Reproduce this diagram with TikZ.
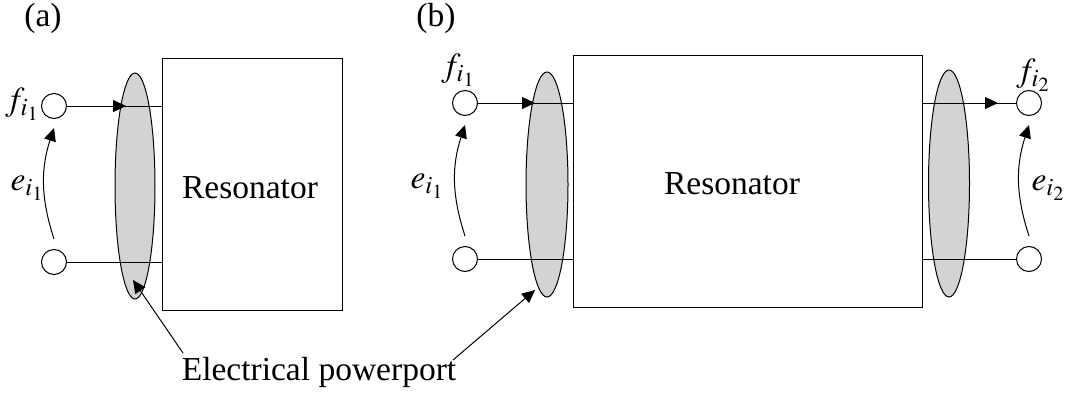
\documentclass[tikz,border=0pt]{standalone}
\usepackage{mathptmx}
\usepackage[no-math]{fontspec}
\setmainfont{Liberation Serif}
\usetikzlibrary{arrows.meta,shapes.geometric}
\definecolor{portgray}{RGB}{210,211,213}
\begin{document}
\begin{tikzpicture}[x=1pt,y=-1pt,
  every node/.style={font=\fontsize{33.5}{40}\selectfont},
  term/.style={circle,draw,line width=1pt,minimum size=25pt,inner sep=0pt,fill=white},
  port/.style={ellipse,draw,line width=1pt,fill=portgray,inner sep=0pt},
  resbox/.style={rectangle,draw,line width=1pt,inner sep=0pt},
  wire/.style={line width=1pt},
  arr/.style={line width=1pt,-{Triangle[length=13pt,width=12pt]}},
  lbl/.style={inner sep=0pt}]
\useasboundingbox (0,0) rectangle (1068,394);

% ---------- panel (a)
\node[lbl] (capA) at (43,18) {(a)};
\node[resbox,minimum width=180pt,minimum height=252pt] (resA) at (252,184) {};
\node[lbl] (resAtxt) at (250,188) {Resonator};
\node[port,minimum width=40pt,minimum height=226pt] (portA) at (135,186) {};
\node[term] (tA1) at (54,106) {};
\node[term] (tA2) at (54,262) {};
\node[lbl] (fA) at (22,104) {$f_{i_1}$};
\node[lbl] (eA) at (27,188) {$e_{i_1}$};
\coordinate (aA) at (126,106);
\draw[wire] (tA1.east) -- (tA1 -| resA.west);
\draw[arr] (tA1.east) -- (aA);
\draw[wire] (tA2.east) -- (tA2 -| resA.west);
\draw[arr] ([yshift=10pt]tA2.north) to[bend left=18] ([yshift=-9pt]tA1.south);

% ---------- panel (b)
\node[lbl] (capB) at (436,18) {(b)};
\node[resbox,minimum width=349pt,minimum height=252pt] (resB) at (747.5,181) {};
\node[lbl] (resBtxt) at (732,184) {Resonator};
\node[port,minimum width=42pt,minimum height=225pt] (portB1) at (547,184.5) {};
\node[port,minimum width=41pt,minimum height=227pt] (portB2) at (949,183.5) {};
\node[term] (tB1) at (465,103) {};
\node[term] (tB2) at (465,259) {};
\node[term] (tB3) at (1029,103) {};
\node[term] (tB4) at (1029,259) {};
\node[lbl] (fB1) at (458,70) {$f_{i_1}$};
\node[lbl] (eB1) at (427,186) {$e_{i_1}$};
\node[lbl] (fB2) at (1033,75) {$f_{i_2}$};
\node[lbl] (eB2) at (1048,188) {$e_{i_2}$};
\coordinate (aB1) at (535,103);
\coordinate (aB2) at (998,103);
\draw[wire] (tB1.east) -- (tB1 -| resB.west);
\draw[arr] (tB1.east) -- (aB1);
\draw[wire] (tB2.east) -- (tB2 -| resB.west);
\draw[wire] (tB3 -| resB.east) -- (tB3.west);
\draw[arr] (tB3 -| resB.east) -- (aB2);
\draw[wire] (tB4 -| resB.east) -- (tB4.west);
\draw[arr] ([yshift=10pt]tB2.north) to[bend left=18] ([yshift=-9pt]tB1.south);
\draw[arr] ([yshift=10pt]tB4.north) to[bend left=18] ([yshift=-9pt]tB3.south);

% ---------- shared label
\node[lbl] (epp) at (319,372) {Electrical powerport};
\coordinate (pA) at (183,353);
\coordinate (pB) at (453,360);
\coordinate (tipA) at (133,280);
\coordinate (tipB) at (535,290);
\draw[arr] (pA) -- (tipA);
\draw[arr] (pB) -- (tipB);
\end{tikzpicture}
\end{document}
